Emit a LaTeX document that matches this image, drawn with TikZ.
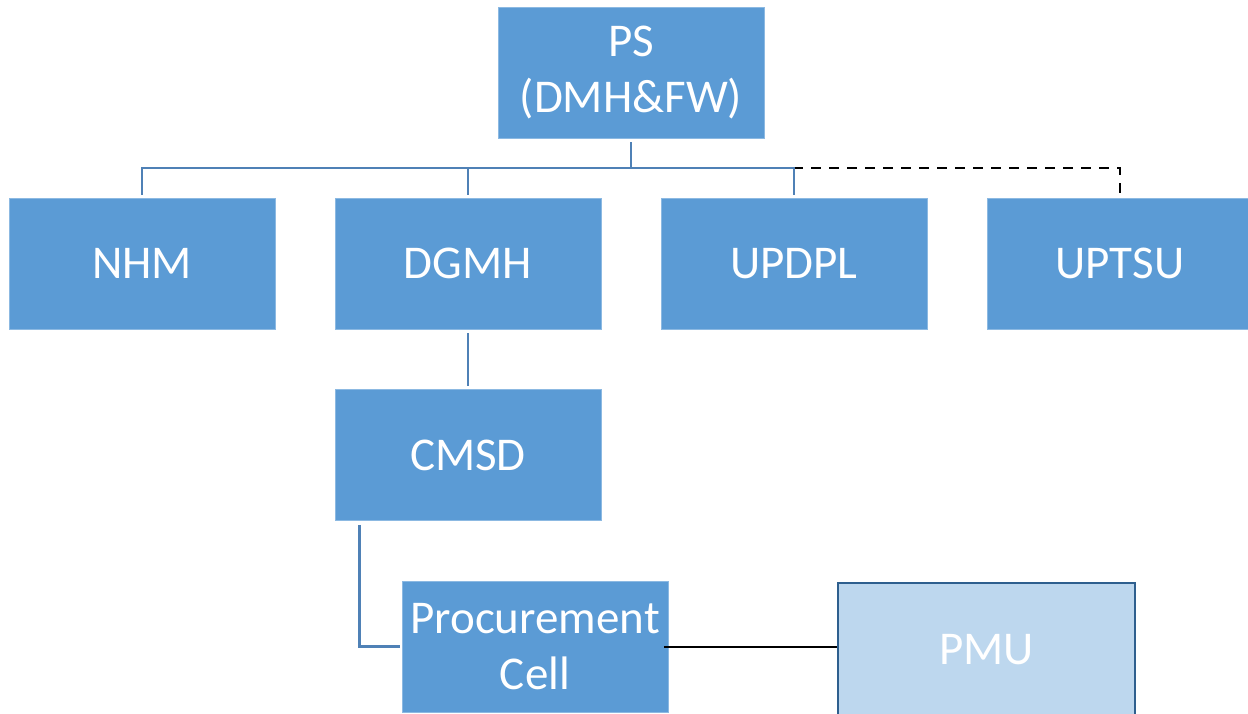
\documentclass[tikz,border=0pt]{standalone}
\usepackage{fontspec}
\setmainfont{Carlito}
\definecolor{boxblue}{HTML}{5B9BD5}
\definecolor{lineblue}{HTML}{4F81B6}
\definecolor{pmufill}{HTML}{BDD7EE}
\definecolor{pmuedge}{HTML}{2E5F8E}
\tikzset{
  unit/.style={fill=boxblue, draw=boxblue!70!white, line width=0.8pt, text=white, minimum width=266pt, minimum height=131pt, inner sep=0pt, align=center, font=\fontsize{47}{56}\selectfont},
  pmubox/.style={unit, fill=pmufill, draw=pmuedge, line width=2pt, minimum width=297pt, minimum height=134pt},
  conn/.style={draw=lineblue, line width=2.4pt},
  dconn/.style={draw=black, line width=2pt, dash pattern=on 10pt off 8pt},
}
\begin{document}
\begin{tikzpicture}[x=1pt,y=-1pt]
\useasboundingbox (0,0) rectangle (1248,713);
\begin{scope}
\clip (0,0) rectangle (1248,713);
\node[unit] (ps) at (631,72.5) {PS\\(DMH\&FW)};
\node[unit] (nhm) at (142,263.5) {NHM};
\node[unit] (dgmh) at (468,263.5) {DGMH};
\node[unit] (updpl) at (794,263.5) {UPDPL};
\node[unit] (uptsu) at (1120,263.5) {UPTSU};
\node[unit] (cmsd) at (468,455) {CMSD};
\node[unit] (proc) at (535,646.5) {Procurement\\Cell};
\node[pmubox] (pmu) at (986.5,650) {PMU};
\coordinate (bus) at (0,168);

\draw[dconn] (ps.south |- bus) -- (uptsu.north |- bus) -- ([yshift=4pt]uptsu.north);
\draw[conn] ([yshift=-4pt]ps.south) -- (ps.south |- bus);
\draw[conn] ([yshift=3pt]nhm.north) -- (nhm.north |- bus) -- (updpl.north |- bus) -- ([yshift=3pt]updpl.north);
\draw[conn] (dgmh.north |- bus) -- ([yshift=3pt]dgmh.north);
\draw[conn] ([yshift=-4pt]dgmh.south) -- ([yshift=3pt]cmsd.north);
\draw[conn] ([xshift=25pt,yshift=-4pt]cmsd.south west) |- ([xshift=-2pt]proc.west);
\draw[draw=black, line width=2pt] ([xshift=-4pt]proc.east) -- (pmu.west |- proc.east);
\end{scope}
\end{tikzpicture}
\end{document}
